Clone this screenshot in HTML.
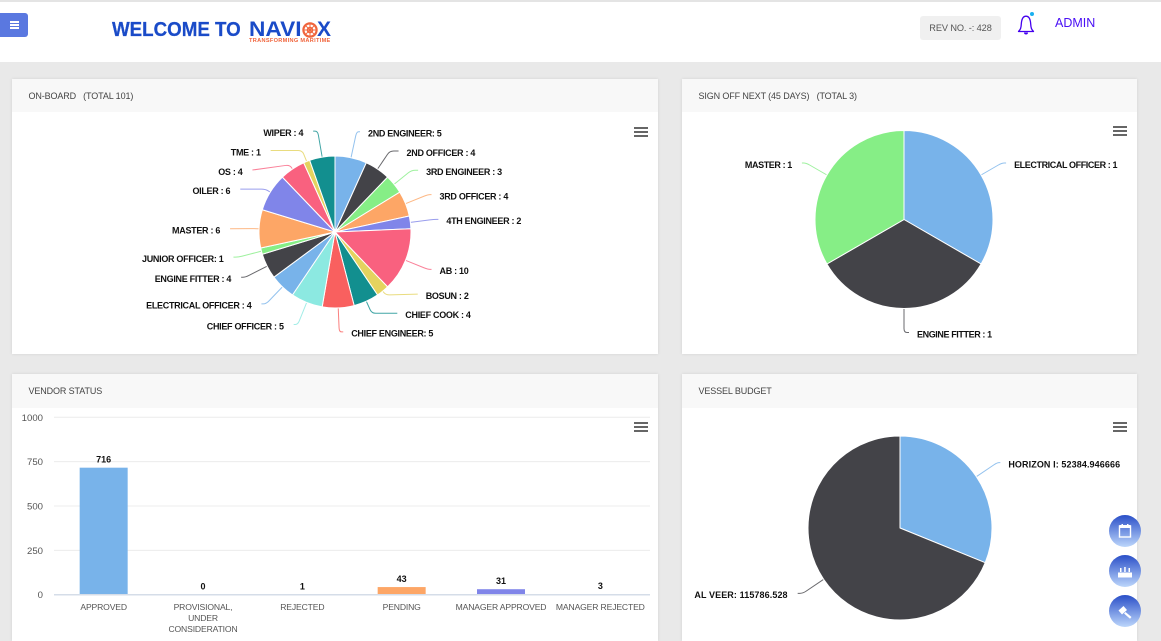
<!DOCTYPE html>
<html lang="en">
<head>
<meta charset="utf-8">
<title>Naviox Dashboard</title>
<style>
html,body{margin:0;padding:0;width:1161px;height:641px;overflow:hidden;}
body{position:relative;background:#e9e9e9;font-family:"Liberation Sans",sans-serif;}
.abs{position:absolute;}
#topbar{left:0;top:0;width:1161px;height:62px;background:#fff;border-top:2px solid #e4e4e4;box-sizing:border-box;}
#menu-btn{left:0;top:13px;width:28px;height:24px;background:#5a78e0;border-radius:0 3px 3px 0;}
#menu-btn i{position:absolute;left:10px;width:9px;height:1.6px;background:#fff;}
#title{left:112px;top:18px;font-size:20.5px;font-weight:bold;color:#1a4bc8;white-space:nowrap;line-height:24px;transform:scaleX(.914);transform-origin:left center;-webkit-text-stroke:.25px #1a4bc8;}
#brand{left:249px;top:18px;font-size:21px;font-weight:bold;color:#1a4bc8;white-space:nowrap;line-height:24px;transform:scaleX(1.08);transform-origin:left center;}
#brand-o{left:302px;top:22px;}
#brand-x{left:317px;top:18px;font-size:21px;font-weight:bold;color:#1a4bc8;line-height:24px;}
#tagline{left:249px;top:38px;font-size:5.6px;font-weight:bold;color:#f0643c;letter-spacing:.32px;white-space:nowrap;line-height:7px;}
#rev{left:920px;top:16px;width:81px;height:24px;background:#f0f0f0;border-radius:3px;font-size:9.2px;color:#555;text-align:center;line-height:25px;letter-spacing:-.1px;}
#admin{left:1055px;top:16px;font-size:12.5px;color:#4a10f5;line-height:15px;}
.card{background:#fff;box-shadow:0 0 3px rgba(0,0,0,.1);overflow:hidden;}
.card-head{position:absolute;left:0;top:0;width:100%;height:33px;background:#f8f8f8;font-size:9px;letter-spacing:-.12px;color:#444;line-height:35px;text-indent:16.5px;white-space:pre;}
.chart{position:absolute;left:0;top:0;}
.menu{position:absolute;width:14px;height:11px;cursor:pointer;}
.menu i{position:absolute;left:0;width:14px;height:2.4px;background:#666;}
.fab{position:absolute;left:1109px;width:32px;height:32px;border-radius:50%;background:linear-gradient(#2a4fc8,#bcd6fb);}
svg text{font-family:"Liberation Sans",sans-serif;}
</style>
</head>
<body>

<div id="topbar" class="abs"></div>
<div id="menu-btn" class="abs"><i style="top:8px"></i><i style="top:11.2px"></i><i style="top:14.4px"></i></div>
<div id="title" class="abs">WELCOME TO</div>
<div id="brand" class="abs">NAVI</div>
<svg id="brand-o" class="abs" width="16" height="16" viewBox="-8 -8 16 16">
  <circle r="6.6" fill="none" stroke="#f0643c" stroke-width="2.2"/>
  <circle r="2.6" fill="none" stroke="#f0643c" stroke-width="1.4"/>
  <path d="M0-6V6M-6 0H6M-4.2-4.2L4.2 4.2M-4.2 4.2L4.2-4.2" stroke="#f0643c" stroke-width="1"/>
</svg>
<div id="brand-x" class="abs">X</div>
<div id="tagline" class="abs">TRANSFORMING MARITIME</div>
<div id="rev" class="abs">REV NO. -: 428</div>
<svg class="abs" style="left:1014px;top:10px" width="24" height="26" viewBox="0 0 24 26">
  <path d="M4.5 21.5c2-2 2.6-3.6 2.8-7.5C7.6 9.5 9 6.2 12 6.2s4.4 3.3 4.7 7.8c.2 3.900.8 5.500 2.800 7.500z" fill="none" stroke="#4400ee" stroke-width="1.3" stroke-linejoin="round"/>
  <path d="M10 22.500a2 2 0 0 0 4 0z" fill="#4400ee"/>
  <circle cx="18" cy="4" r="2" fill="#1ab0f0"/>
</svg>
<div id="admin" class="abs">ADMIN</div>

<div class="abs card" style="left:12px;top:79px;width:646px;height:275px">
  <div class="card-head">ON-BOARD   (TOTAL 101)</div>
  <svg id="onboard-chart" class="chart" width="646" height="275" viewBox="12 79 646 275"></svg>
  <div class="menu" style="left:622px;top:47.500px"><i style="top:0"></i><i style="top:4px"></i><i style="top:8px"></i></div>
</div>

<div class="abs card" style="left:682px;top:79px;width:455px;height:275px">
  <div class="card-head">SIGN OFF NEXT (45 DAYS)   (TOTAL 3)</div>
  <svg id="signoff-chart" class="chart" width="455" height="275" viewBox="682 79 455 275"></svg>
  <div class="menu" style="left:431px;top:47px"><i style="top:0"></i><i style="top:4px"></i><i style="top:8px"></i></div>
</div>

<div class="abs card" style="left:12px;top:374px;width:646px;height:267px">
  <div class="card-head" style="height:34px">VENDOR STATUS</div>
  <svg id="vendor-chart" class="chart" width="646" height="267" viewBox="12 374 646 267"></svg>
  <div class="menu" style="left:622px;top:47.700px"><i style="top:0"></i><i style="top:4px"></i><i style="top:8px"></i></div>
</div>

<div class="abs card" style="left:682px;top:374px;width:455px;height:267px">
  <div class="card-head" style="height:34px">VESSEL BUDGET</div>
  <svg id="budget-chart" class="chart" width="455" height="267" viewBox="682 374 455 267"></svg>
  <div class="menu" style="left:431px;top:47.700px"><i style="top:0"></i><i style="top:4px"></i><i style="top:8px"></i></div>
</div>

<div class="fab" style="top:515px">
  <svg width="32" height="32" viewBox="0 0 32 32"><rect x="10.500" y="11" width="11" height="11" fill="none" stroke="#fff" stroke-width="1.400"/><rect x="10.500" y="10" width="11" height="3" fill="#fff"/><rect x="12.500" y="9" width="1.500" height="3" fill="#fff"/><rect x="18" y="9" width="1.500" height="3" fill="#fff"/></svg>
</div>
<div class="fab" style="top:555px">
  <svg width="32" height="32" viewBox="0 0 32 32"><path d="M9 22.500v-5h14v5zM11 17v-4h1.500v4zM15.200 17v-5h1.500v5zM19.500 17v-4H21v4z" fill="#fff"/></svg>
</div>
<div class="fab" style="top:595px">
  <svg width="32" height="32" viewBox="0 0 32 32"><path d="M9.500 15.500l5-4.500 3.500 4-5 4.500zM16.500 17l6 5-1.500 1.800-6-5.300z" fill="#fff"/></svg>
</div>

<script>
// ---- chart data ----
const sliceColors = ['#78b3ea','#434348','#86ee86','#fda666','#8085e9','#f9617f','#e4d35f','#128f8f','#f9605f','#8ce9e1'];

const onboardCategories = ['2ND ENGINEER:','2ND OFFICER :','3RD ENGINEER :','3RD OFFICER :','4TH ENGINEER :','AB :','BOSUN :','CHIEF COOK :','CHIEF ENGINEER:','CHIEF OFFICER :','ELECTRICAL OFFICER :','ENGINE FITTER :','JUNIOR OFFICER:','MASTER :','OILER :','OS :','TME :','WIPER :'];
const onboardValues = [5,4,3,4,2,10,2,4,5,5,4,4,1,6,6,4,1,4];

const signoffCategories = ['ELECTRICAL OFFICER :','ENGINE FITTER :','MASTER :'];
const signoffValues = [1,1,1];

const budgetCategories = ['HORIZON I:','AL VEER:'];
const budgetValues = [52384.946666,115786.528];

const vendorCategories = [['APPROVED'],['PROVISIONAL,','UNDER','CONSIDERATION'],['REJECTED'],['PENDING'],['MANAGER APPROVED'],['MANAGER REJECTED']];
const vendorValues = [716,0,1,43,31,3];
const vendorTicks = [0,250,500,750,1000];

// ---- layout (label connector offsets from the slice edge, kept apart from the data) ----
const onboardLabelShift = [[9,-26],[21,-18],[24,-14],[26,-9],[28,-3],[26,9],[35,3],[31,12],[5,24],[-13,22],[-21,17],[-26,11],[-28,6],[-29,0],[-30,-3],[-40,1],[-36,-11],[-9,-26]];
const signoffLabelShift = [[25,-12],[5,24],[-25,-12]];
const budgetLabelShift = [[24,-14],[-26,14]];

const NS = 'http://www.w3.org/2000/svg';
function make(parent, tag, attrs, txt){
  const n = document.createElementNS(NS, tag);
  for (const k in attrs) n.setAttribute(k, attrs[k]);
  if (txt !== undefined) n.textContent = txt;
  parent.appendChild(n);
  return n;
}
function polar(cx, cy, r, deg){
  const a = deg * Math.PI / 180;
  return [cx + r * Math.sin(a), cy - r * Math.cos(a)];
}
// Connector: leaves the slice radially, rounds a corner, then runs straight to the label.
function connectorPath(e, end, mid){
  const a = mid * Math.PI / 180;
  const ux = Math.sin(a), uy = -Math.cos(a);
  let t = Math.abs(uy) > 0.05 ? (end[1] - e[1]) / uy : 0;
  t = Math.min(30, Math.max(5, t));
  const c = [e[0] + ux * t, e[1] + uy * t];
  const before = Math.min(4, t * 0.6);
  const b = [c[0] - ux * before, c[1] - uy * before];
  const dx = end[0] - c[0], dy = end[1] - c[1];
  const len = Math.hypot(dx, dy) || 1;
  const afterLen = Math.min(4, len * 0.6);
  const f = [c[0] + dx / len * afterLen, c[1] + dy / len * afterLen];
  const n = p => p[0].toFixed(2) + ' ' + p[1].toFixed(2);
  return 'M' + n(e) + 'L' + n(b) + 'Q' + n(c) + ' ' + n(f) + 'L' + n(end);
}

function drawPie(svg, categories, values, cx, cy, r, shifts, tracking){
  const total = values.reduce((a, b) => a + b, 0);
  let start = 0;
  const connectors = make(svg, 'g', {});
  
  
  const slices = make(svg, 'g', {});
  
  
  const labels = make(svg, 'g', {});
  
  

  values.forEach((v, i) => {
    const sweep = v / total * 360;
    const end = start + sweep;
    const mid = start + sweep / 2;
    const color = sliceColors[i % sliceColors.length];
    const p0 = polar(cx, cy, r, start);
    const p1 = polar(cx, cy, r, end);
    const d = 'M' + cx + ' ' + cy + 'L' + p0[0].toFixed(2) + ' ' + p0[1].toFixed(2) +
      'A' + r + ' ' + r + ' 0 ' + (sweep > 180 ? 1 : 0) + ' 1 ' + p1[0].toFixed(2) + ' ' + p1[1].toFixed(2) + 'Z';
    const slice = make(slices, 'path', {d: d, fill: color, stroke: '#fff', 'stroke-width': 1, 'stroke-linejoin': 'round'});
    
    

    const e = polar(cx, cy, r, mid);
    const ex = e[0] + shifts[i][0];
    const ey = e[1] + shifts[i][1];
    const line = make(connectors, 'path', {
      d: connectorPath(e, [ex, ey], mid),
      fill: 'none', stroke: color, 'stroke-width': 1, 'stroke-opacity': 0.8
    });
    
    

    const right = mid < 180.5;
    const label = make(labels, 'text', {
      x: (ex + (right ? 8 : -10)).toFixed(2),
      y: (ey + 4.800).toFixed(2),
      'text-anchor': right ? 'start' : 'end',
      'font-size': 9, 'font-weight': 'bold', 'letter-spacing': tracking, fill: '#111'
    }, categories[i] + ' ' + values[i]);
    
    
    start = end;
  });
}

drawPie(document.getElementById('onboard-chart'), onboardCategories, onboardValues, 335, 232, 76, onboardLabelShift, -0.3);
drawPie(document.getElementById('signoff-chart'), signoffCategories, signoffValues, 904, 219.500, 89, signoffLabelShift, -0.4);
drawPie(document.getElementById('budget-chart'), budgetCategories, budgetValues, 900, 528, 92, budgetLabelShift, 0.1);

// ---- bar chart ----
(function(){
  const svg = document.getElementById('vendor-chart');
  const plotLeft = 54, plotRight = 650, plotTop = 417.300, plotBottom = 594.700;
  const maxTick = vendorTicks[vendorTicks.length - 1];
  const yScale = v => plotBottom - (v / maxTick) * (plotBottom - plotTop);
  const band = (plotRight - plotLeft) / vendorCategories.length;
  const xCenter = i => plotLeft + band * (i + 0.5);
  const barWidth = 48;

  vendorTicks.forEach(t => {
    const y = yScale(t);
    if (t !== 0) {
      const grid = make(svg, 'line', {x1: plotLeft, x2: plotRight, y1: y, y2: y, stroke: '#ececec', 'stroke-width': 1});
      
      
    }
    const lab = make(svg, 'text', {x: 43, y: y + 3.500, 'text-anchor': 'end', 'font-size': 9.600, fill: '#555'}, String(t));
    
    
  });

  vendorValues.forEach((v, i) => {
    const top = yScale(v);
    const bar = make(svg, 'rect', {x: xCenter(i) - barWidth / 2, y: top, width: barWidth, height: plotBottom - top, fill: sliceColors[i % sliceColors.length]});
    
    
    const val = make(svg, 'text', {x: xCenter(i), y: top - 5, 'text-anchor': 'middle', 'font-size': 9, 'font-weight': 'bold', fill: '#111'}, String(v));
    
    
    vendorCategories[i].forEach((line, j) => {
      const cat = make(svg, 'text', {x: xCenter(i), y: 610 + j * 11, 'text-anchor': 'middle', 'font-size': 8.600, 'letter-spacing': -0.15, fill: '#555'}, line);
      
      
    });
  });

  const axis = make(svg, 'line', {x1: plotLeft, x2: plotRight, y1: plotBottom, y2: plotBottom, stroke: '#d5dde8', 'stroke-width': 1.500});
  
  
})();
</script>
</body>
</html>
